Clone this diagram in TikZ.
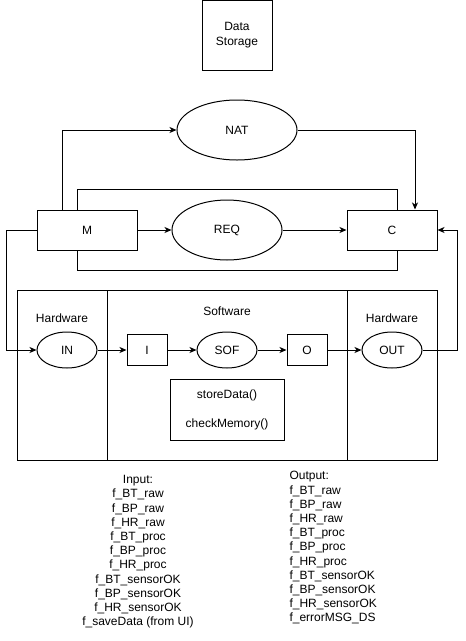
\documentclass[tikz,border=0pt]{standalone}
\usepackage{fontspec}
\setmainfont{Liberation Sans}
\usetikzlibrary{shapes.geometric,arrows.meta}

\begin{document}
\begin{tikzpicture}[x=1pt,y=-1pt,line width=1pt,
  font=\fontsize{12}{14.4}\selectfont,
  box/.style={draw,rectangle,inner sep=0pt,align=center},
  oval/.style={draw,ellipse,inner sep=0pt},
  list/.style={inner sep=0pt,font=\fontsize{12}{14.2}\selectfont},
  arr/.style={-{Stealth[length=7pt,width=6pt,inset=2pt]}}]
\useasboundingbox (0,0) rectangle (466,641);
% top part
\node[box,minimum width=70,minimum height=70] (store) at (237,35) {Data\\Storage};
\node[oval,minimum width=120,minimum height=60] (nat) at (237,130) {NAT};
\node[box,minimum width=100,minimum height=40] (m) at (87,230) {M};
\node[oval,minimum width=110,minimum height=60] (req) at (227,230) {REQ};
\node[box,minimum width=90,minimum height=40] (c) at (392,230) {C};
% hardware / software panels
\node[box,minimum width=90,minimum height=170] (hwleft) at (62,375) {};
\node[box,minimum width=240,minimum height=170] (sw) at (227,375) {};
\node[box,minimum width=90,minimum height=170] (hwright) at (392,375) {};
\node (hwleftlbl) at (62,318) {Hardware};
\node (swlbl) at (227,311) {Software};
\node (hwrightlbl) at (392,318) {Hardware};
\node[oval,minimum width=60,minimum height=36] (inhw) at (67,350) {IN};
\node[box,minimum width=40,minimum height=31] (iblk) at (147,350) {I};
\node[oval,minimum width=60,minimum height=36] (sof) at (227,350) {SOF};
\node[box,minimum width=40,minimum height=31] (oblk) at (307,350) {O};
\node[oval,minimum width=60,minimum height=36] (outhw) at (392,350) {OUT};
\node[box,minimum width=114,minimum height=61] (func) at (227,410) {storeData()\\[14.4pt]checkMemory()};
% signal lists
\node[list,align=center,anchor=north] (inlist) at (138,475)
  {Input:\\f\_BT\_raw\\f\_BP\_raw\\f\_HR\_raw\\f\_BT\_proc\\f\_BP\_proc\\f\_HR\_proc\\f\_BT\_sensorOK\\f\_BP\_sensorOK\\f\_HR\_sensorOK\\f\_saveData (from UI)};
\node[list,align=left,anchor=north west] (outlist) at (289,471)
  {Output:\\f\_BT\_raw\\f\_BP\_raw\\f\_HR\_raw\\f\_BT\_proc\\f\_BP\_proc\\f\_HR\_proc\\f\_BT\_sensorOK\\f\_BP\_sensorOK\\f\_HR\_sensorOK\\f\_errorMSG\_DS};
% connectors
\draw[arr] ([xshift=-25pt]m.north) |- (nat.west);
\draw[arr] (nat.east) -| ([xshift=23pt]c.north);
\draw ([xshift=-10pt]m.north) -- ++(0,-20) -| ([xshift=5pt]c.north);
\draw ([xshift=-10pt]m.south) -- ++(0,20) -| ([xshift=5pt]c.south);
\draw[arr] (m) -- (req);
\draw[arr] (req) -- (c);
\draw[arr] (m.west) -- ++(-30,0) |- (inhw.west);
\draw[arr] (outhw.east) -- ++(35,0) |- (c.east);
\draw[arr] (inhw) -- (iblk);
\draw[arr] (iblk) -- (sof);
\draw[arr] (sof) -- (oblk);
\draw[arr] (oblk) -- (outhw);
\end{tikzpicture}
\end{document}
